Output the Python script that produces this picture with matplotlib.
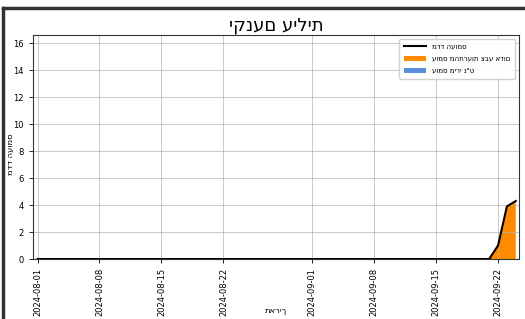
import matplotlib
matplotlib.use("Agg")
import matplotlib.pyplot as plt
import matplotlib.dates as mdates
from matplotlib.lines import Line2D
import numpy as np
import pandas as pd

# Data
start_date = "2024-08-01"
end_date = "2024-09-24"
dates = pd.date_range(start_date, end_date, freq="D")
red_alert_load = [0.0] * 51 + [0.0, 1.0, 3.9, 4.3]
antitank_load = [0.0] * 55
title = "יקנעם עילית"
label_index = "מדד העומס"
label_red = "עומס מהתרעות צבע אדום"
label_at = 'עומס מירי נ"ט'
xlabel = "תאריך"
ylabel = "מדד העומס"

red = np.array(red_alert_load)
at = np.array(antitank_load)
total = red + at

fig = plt.figure(figsize=(5.25, 3.19), dpi=100)
ax = fig.add_axes([0.063, 0.188, 0.925, 0.702])

ax.stackplot(dates, red, at, colors=["#ff8c00", "#5b8fd9"], labels=[label_red, label_at])
ax.plot(dates, total, color="black", lw=1.5, label=label_index)

ax.set_xlim(pd.Timestamp("2024-07-31 12:00"), pd.Timestamp("2024-09-24 08:00"))
ax.set_ylim(0, 16.6)
ax.set_yticks(range(0, 17, 2))
ax.xaxis.set_major_locator(mdates.DayLocator(bymonthday=[1, 8, 15, 22]))
ax.xaxis.set_major_formatter(mdates.DateFormatter("%Y-%m-%d"))
plt.setp(ax.get_xticklabels(), rotation=90)
ax.tick_params(labelsize=6, length=3, width=0.6)
ax.grid(True, color="#b0b0b0", lw=0.6, alpha=0.8)
for s in ax.spines.values():
    s.set_linewidth(0.8)
    s.set_color("#333333")

ax.set_title(title, fontsize=13, pad=3)
ax.set_xlabel(xlabel, fontsize=6)
ax.xaxis.set_label_coords(0.5, -0.21)
ax.set_ylabel(ylabel, fontsize=6)
ax.yaxis.set_label_coords(-0.038, 0.47)

h, l = ax.get_legend_handles_labels()
order = [2, 0, 1]
ax.legend([h[i] for i in order], [l[i] for i in order], loc="upper right", fontsize=5,
          framealpha=0.9, handlelength=3.2, labelspacing=0.9, borderpad=0.7)

fig.add_artist(Line2D([0.006, 0.006], [0, 0.975], transform=fig.transFigure, color="#333333", lw=2.5))
fig.add_artist(Line2D([0.006, 1], [0.975, 0.975], transform=fig.transFigure, color="#333333", lw=2.5))

fig.savefig("out.png", dpi=100)
